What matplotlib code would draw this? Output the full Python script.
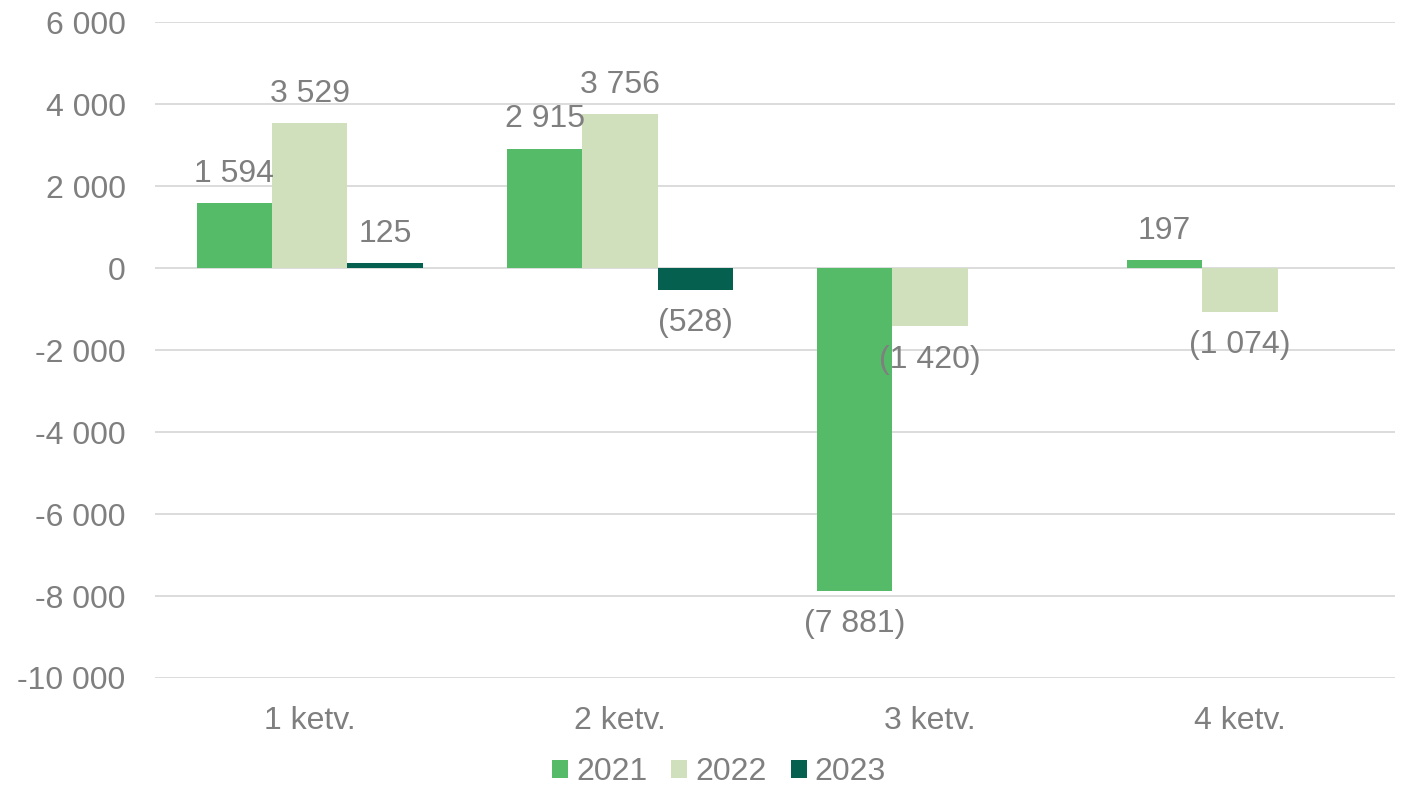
import numpy as np
import matplotlib.pyplot as plt

kategoriak = ["1 ketv.", "2 ketv.", "3 ketv.", "4 ketv."]
ev_2021 = [1594, 2915, -7881, 197]
ev_2022 = [3529, 3756, -1420, -1074]
ev_2023 = [125, -528, None, None]
evek = ["2021", "2022", "2023"]
szinek = ["#55bb69", "#d0dfbc", "#06604f"]
y_ticks = [-10000, -8000, -6000, -4000, -2000, 0, 2000, 4000, 6000]

plt.rcParams['font.family'] = ['Liberation Sans', 'DejaVu Sans']
szurke = "#7f7f7f"


def formaz(v, zarojel=False):
    s = f"{abs(v):,}".replace(",", " ")
    if v < 0:
        return f"({s})" if zarojel else f"-{s}"
    return s


fig = plt.figure(figsize=(14.07, 7.88), dpi=100)
ax = fig.add_axes([0.110, 0.1396, 0.8815, 0.8324])

x = np.arange(len(kategoriak))
w = 0.243
sorozatok = [ev_2021, ev_2022, ev_2023]
for i, (adat, nev, szin) in enumerate(zip(sorozatok, evek, szinek)):
    ertekek = [np.nan if v is None else v for v in adat]
    pos = x + (i - 1) * w
    ax.bar(pos, ertekek, width=w, color=szin, label=nev, zorder=3)
    for px, v in zip(pos, adat):
        if v is None:
            continue
        off = 21 if v >= 0 else -24
        ax.annotate(formaz(v, True), (px, v), xytext=(0, off), textcoords="offset points",
                    ha="center", va="center", fontsize=23, color=szurke, zorder=4)

ax.set_xlim(-0.5, 3.5)
ax.set_ylim(-10000, 6000)
ax.set_yticks(y_ticks)
ax.set_yticklabels([formaz(v) for v in y_ticks])
ax.set_xticks(x)
ax.set_xticklabels(kategoriak)
ax.tick_params(axis="both", length=0, labelsize=23, labelcolor=szurke)
ax.tick_params(axis="x", pad=20)
ax.tick_params(axis="y", pad=21)
ax.grid(axis="y", color="#d9d9d9", linewidth=1.3, zorder=0)
for s in ax.spines.values():
    s.set_visible(False)

ax.legend(loc="center", bbox_to_anchor=(0.455, -0.144), ncol=3, frameon=False,
          fontsize=23, labelcolor=szurke, handlelength=0.5, handleheight=0.5,
          handletextpad=0.25, columnspacing=0.75, borderpad=0.2)

fig.savefig("out.png", dpi=100)
